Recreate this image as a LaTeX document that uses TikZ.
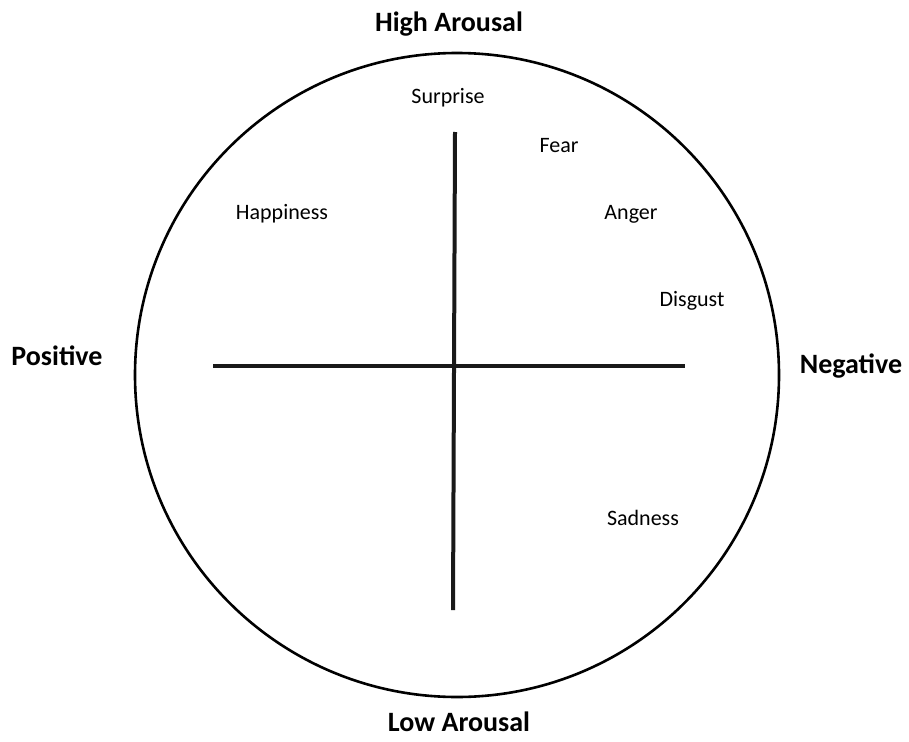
\documentclass[tikz,border=0pt]{standalone}
\usepackage{fontspec}
\setmainfont{Carlito}
\begin{document}
\begin{tikzpicture}[x=1pt,y=-1pt,
  axis/.style={line width=4pt,black!90},
  big/.style={font=\bfseries\fontsize{28}{32}\selectfont},
  emo/.style={font=\fontsize{22}{26}\selectfont}]
\useasboundingbox (0,0) rectangle (909,741);
\node[draw,circle,line width=2.6pt,minimum size=644pt,inner sep=0pt] (c) at (457,375) {};
\coordinate (l) at (213,366);
\coordinate (r) at (685,366);
\coordinate (t) at (455,132);
\coordinate (b) at (453,610);
\draw[axis] (l) -- (r);
\draw[axis] (t) -- (b);
\node[big] (ha) at (449,24) {High Arousal};
\node[big] (la) at (459,722) {Low Arousal};
\node[big] (pos) at (57,356) {Positive};
\node[big] (neg) at (851,366) {Negative};
\node[emo] (sur) at (448,98) {Surprise};
\node[emo] (fear) at (559,146) {Fear};
\node[emo] (hap) at (282,214) {Happiness};
\node[emo] (ang) at (631,214) {Anger};
\node[emo] (dis) at (692,301) {Disgust};
\node[emo] (sad) at (643,518) {Sadness};
\end{tikzpicture}
\end{document}
